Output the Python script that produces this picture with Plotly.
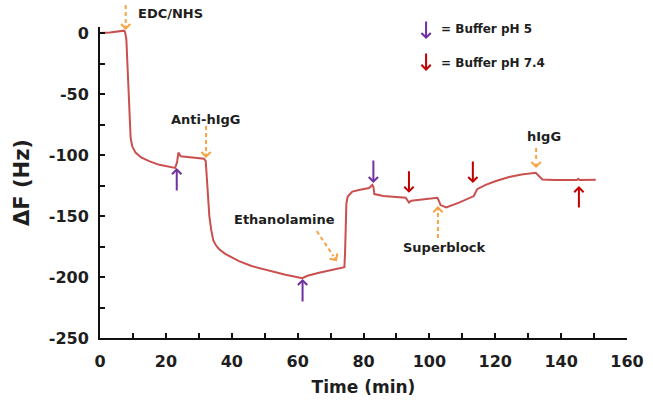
import plotly.graph_objects as go

# ---- data ----
time_min = [0, 3, 7.3, 7.6, 8.0, 8.5, 9.0, 9.3, 9.8, 10.8, 12.5, 14.9, 18, 21.9, 22.8,
            23.4, 23.8, 24.5, 28, 31.6, 32.1, 32.6, 33.2, 33.8, 34.4, 35.2, 36.1, 38,
            42.2, 46, 51.3, 56, 61.4, 63, 66.5, 70, 73.6, 74.2, 74.4, 74.6, 74.8, 75.2,
            76.6, 79, 81.7, 82.7, 83.0, 83.3, 86, 92.8, 93.3, 93.8, 94.5, 98, 102.4,
            102.8, 103.4, 105.1, 109, 113.5, 114.0, 114.5, 117.1, 120, 124.2, 128,
            132.3, 133.3, 134.3, 138, 141.4, 144.8, 145.2, 145.6, 150.5]
delta_f = [0, 0.5, 2, 1, -5, -35, -70, -86, -93, -98, -102, -105, -108, -110, -110.5,
           -106, -98, -101, -102, -103, -105, -125, -150, -162, -170, -174, -177, -181,
           -187, -191, -195, -198, -201, -199, -196.5, -194.5, -192.4, -192, -180, -160,
           -140, -134, -130, -128.5, -127, -124.5, -126, -132, -133.5, -135, -137, -139,
           -137.5, -136.5, -135, -137, -141, -143, -139, -133.6, -131, -128, -124.5,
           -121.5, -118, -116, -114.5, -117.5, -120, -120.5, -120.7, -120.5, -119.5,
           -120.5, -120.3]

x_ticks = [0, 20, 40, 60, 80, 100, 120, 140, 160]
y_ticks = [0, -50, -100, -150, -200, -250]
Y_MIN, Y_MAX = -250, 5

# buffer arrows: time, tip value, direction (+1 up-pointing, -1 down-pointing)
ph5_times = [23.3, 61.5, 83.0]
ph5_tips = [-110.7, -201.6, -123.0]
ph5_dirs = [1, 1, -1]
ph74_times = [93.8, 113.2, 145.4]
ph74_tips = [-131.0, -123.0, -125.4]
ph74_dirs = [-1, -1, 1]

# reagent injections (orange dashed arrows)
reagent_labels = ["EDC/NHS", "Anti-hIgG", "Ethanolamine", "Superblock", "hIgG"]
reagent_times = [7.8, 32.2, 71.9, 102.6, 132.4]
reagent_tips = [2.5, -102.5, -187.0, -141.8, -110.7]
label_x = [10.9, 31.9, 55.9, 104.7, 134.8]
label_y = [16.0, -70.5, -153.0, -176.0, -84.4]

legend_labels = ["= Buffer pH 5", "= Buffer pH 7.4"]

# ---- styling ----
LINE = "#C9504F"
PURPLE = "#7030A0"
RED = "#C00000"
ORANGE = "#F7A445"
FONT = "DejaVu Sans"
TXT = "#1e1e1e"


def py(v):
    return (v - Y_MIN) / (Y_MAX - Y_MIN)


fig = go.Figure()
fig.add_trace(go.Scatter(x=time_min, y=delta_f, mode="lines",
                         line=dict(color=LINE, width=2), showlegend=False,
                         hoverinfo="skip"))

annotations = []
shapes = []


def solid_arrow(t, v, direction, color, length=25):
    annotations.append(dict(x=t, y=v, xref="x", yref="y", ax=0,
                            ay=length * direction, axref="pixel", ayref="pixel",
                            showarrow=True, arrowhead=4, arrowsize=0.9,
                            arrowwidth=2, arrowcolor=color, text=""))


def dashed_arrow(t, v, dx, dy, color):
    # dx, dy: tail offset from tip in screen pixels (dy positive = below)
    L = (dx * dx + dy * dy) ** 0.5
    ux, uy = dx / L, dy / L
    shapes.append(dict(type="line", xref="x", yref="paper", xsizemode="pixel",
                       ysizemode="pixel", xanchor=t, yanchor=py(v),
                       x0=dx, y0=-dy, x1=ux * 6, y1=-uy * 6,
                       line=dict(color=color, width=2, dash="4px,3px")))
    annotations.append(dict(x=t, y=py(v), xref="x", yref="paper", ax=ux * 6,
                            ay=uy * 6, axref="pixel", ayref="pixel", showarrow=True,
                            arrowhead=4, arrowsize=0.9, arrowwidth=2,
                            arrowcolor=color, text=""))


for t, v, d in zip(ph5_times, ph5_tips, ph5_dirs):
    solid_arrow(t, v, d, PURPLE, 24)
for t, v, d in zip(ph74_times, ph74_tips, ph74_dirs):
    solid_arrow(t, v, d, RED, 23)

tails = [(0, -25), (0, -32), (-20, -30), (0, 32), (0, -20)]
for t, v, (dx, dy) in zip(reagent_times, reagent_tips, tails):
    dashed_arrow(t, v, dx, dy, ORANGE)

anchors = ["left", "center", "center", "center", "center"]
for lab, lx, ly, an in zip(reagent_labels, label_x, label_y, anchors):
    annotations.append(dict(x=lx, y=py(ly), xref="x", yref="paper", text=lab,
                            showarrow=False, xanchor=an, yanchor="middle",
                            font=dict(family=FONT, size=13, color=TXT,
                                      weight="bold")))

# legend-like key
legend_t = 99.0
legend_tips = [-4.9, -31.0]
legend_text_y = [3.3, -24.6]
for (lab, tip, ty, col) in zip(legend_labels, legend_tips, legend_text_y,
                               [PURPLE, RED]):
    solid_arrow(legend_t, tip, -1, col, 19)
    annotations.append(dict(x=legend_t + 4.0, y=py(ty), xref="x", yref="paper",
                            text=lab, showarrow=False, xanchor="left",
                            yanchor="middle",
                            font=dict(family=FONT, size=12, color=TXT,
                                      weight="bold")))

fig.update_layout(
    width=653, height=407,
    margin=dict(l=100, r=26, t=27, b=69),
    paper_bgcolor="white", plot_bgcolor="white",
    font=dict(family=FONT, color=TXT),
    annotations=annotations, shapes=shapes,
    showlegend=False,
)
fig.update_xaxes(
    range=[0, 160], tickmode="array", tickvals=x_ticks,
    ticktext=[str(v) for v in x_ticks], automargin=False,
    ticks="inside", ticklen=5, tickwidth=1.5, tickcolor="#111",
    minor=dict(dtick=10, ticks="inside", ticklen=5, tickwidth=1.5, tickcolor="#111"),
    showline=True, linecolor="#111", linewidth=2, showgrid=False, zeroline=False,
    tickfont=dict(family=FONT, size=16, weight="bold", color=TXT),
    ticklabelstandoff=8,
    title=dict(text="Time (min)", font=dict(family=FONT, size=17, weight="bold",
                                            color=TXT),
               standoff=11),
)
fig.update_yaxes(
    range=[Y_MIN, Y_MAX], tickmode="array", tickvals=y_ticks,
    ticktext=[str(v) for v in y_ticks], automargin=False,
    ticks="inside", ticklen=5, tickwidth=1.5, tickcolor="#111",
    minor=dict(dtick=25, tick0=0, ticks="inside", ticklen=5, tickwidth=1.5,
               tickcolor="#111"),
    showline=True, linecolor="#111", linewidth=2, showgrid=False, zeroline=False,
    tickfont=dict(family=FONT, size=16, weight="bold", color=TXT),
    ticklabelstandoff=6,
    title=dict(text="ΔF (Hz)", font=dict(family=FONT, size=21, weight="bold",
                                         color=TXT),
               standoff=13),
)

fig.write_html("out.html", config={"displayModeBar": False},
               post_script="document.body.style.margin='0';"
                           "document.body.style.overflow='hidden';")
